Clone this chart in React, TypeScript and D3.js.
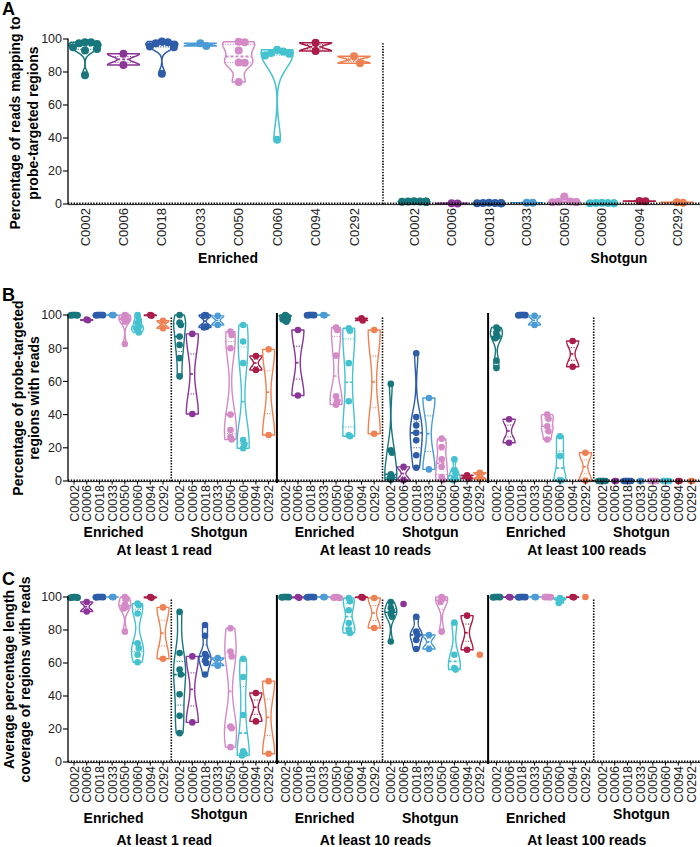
import React from "react";
import * as d3 from "d3";

const categories = ["C0002", "C0006", "C0018", "C0033", "C0050", "C0060", "C0094", "C0292"];
const colors = ["#17777d", "#8a3597", "#2d5ca8", "#4b9cd6", "#d48ac6", "#45c2cf", "#ab1d48", "#ef8052"];
const yTicks = [0, 20, 40, 60, 80, 100];
const groupNames = ["Enriched", "Shotgun"];
const thresholdLabels = ["At least 1 read", "At least 10 reads", "At least 100 reads"];

// Panel A: percentage of reads mapping to probe-targeted regions
const aEnriched: number[][] = [
  [98, 98, 97.5, 97, 95, 94, 93, 78],
  [91, 84.2],
  [98.5, 98, 97.5, 96.5, 95.5, 95, 79],
  [97.5, 95.8],
  [98, 98.4, 93, 85.8, 85.6, 74],
  [93.5, 92.5, 91.5, 91, 90, 39],
  [97.8, 92.7],
  [89.5, 85.3],
];
const aShotgun: number[][] = [
  [1.5, 1.4, 1.6, 1.3, 1.5, 1.2, 1.4, 1.5],
  [0.3, 0.4],
  [0.6, 0.5, 0.7, 0.4, 0.6, 0.5, 0.5],
  [0.8, 0.7],
  [4.5, 1.5, 1.2, 1.0, 1.3, 1.1],
  [0.6, 0.5, 0.7, 0.6, 0.5, 0.4],
  [1.8, 1.6],
  [1.0, 0.8],
];

// Panel B: percentage of probe-targeted regions with reads
const b1Enriched: number[][] = [
  [100, 100, 99.8, 99.9, 100, 99.7, 99.9],
  [97.2, 96.8],
  [100, 99.9, 100, 99.8, 100, 99.9, 100],
  [100, 99.9],
  [100, 99.5, 98, 97, 96, 82.5],
  [100, 97, 95, 93, 92, 91, 89.5],
  [100, 99.6],
  [96.5, 92],
];
const b1Shotgun: number[][] = [
  [100, 95.5, 94, 87, 82, 74, 63],
  [88.6, 40.4],
  [100, 99.8, 99.5, 93, 92.8, 92.5],
  [99.5, 94],
  [90, 88, 80, 40, 30.7, 26.5, 25],
  [94, 84, 71, 24.7, 22, 19.7],
  [75.3, 66.9],
  [79.3, 27.7],
];
const b10Enriched: number[][] = [
  [100, 99.5, 99, 98, 97.5, 96.5, 96],
  [91, 51.5],
  [100, 100, 99.9, 100, 99.8, 100, 99.9],
  [100, 99.8],
  [92.5, 91, 75.5, 51, 48, 46],
  [92, 90.5, 71, 48, 27.5, 27],
  [98, 96.7],
  [91, 28.5],
];
const b10Shotgun: number[][] = [
  [58.5, 18.5, 17, 4, 2.5, 1.5, 0.8],
  [8.5, 0.5],
  [77, 38.5, 33.5, 29, 24.5, 15.5, 8],
  [50, 7],
  [25.5, 20.5, 13, 8.5, 2.4, 0.5],
  [13, 6.5, 4.5, 2, 1, 0.5],
  [3.5, 1.5],
  [5, 1.2],
];
const b100Enriched: number[][] = [
  [92.5, 91.5, 89, 87, 86, 72.5, 68],
  [37.2, 23],
  [100, 99.9, 100, 100, 99.8, 100, 99.9],
  [99.5, 94],
  [40, 37.5, 33, 30, 25],
  [27, 15, 0.5, 0.3],
  [84.3, 68.8],
  [17, 0.2],
];
const b100Shotgun: number[][] = [
  [0, 0, 0, 0, 0, 0, 0],
  [0, 0],
  [0, 0, 0, 0, 0, 0, 0],
  [0, 0],
  [0, 0, 0, 0, 0, 0],
  [0, 0, 0, 0, 0, 0],
  [0, 0],
  [0, 0],
];

// Panel C: average percentage length coverage of regions with reads
const c1Enriched: number[][] = [
  [100, 99.8, 99.6, 99.9, 99.7, 99.5, 99.8],
  [97, 91.2],
  [100, 99.9, 100, 99.8, 100, 99.9, 100],
  [100, 99.9],
  [100, 98.5, 95.5, 94, 93, 79],
  [96, 95, 90, 72, 69, 65, 60.5],
  [100, 99.5],
  [93.7, 62.6],
];
const c1Shotgun: number[][] = [
  [91, 66, 56, 53, 41, 28, 17.5],
  [64, 24],
  [83, 76.5, 65.5, 64, 61.5, 60, 53],
  [63, 58.4],
  [81, 67, 64, 21.5, 20.5, 9],
  [62.5, 51.5, 28.5, 6.5, 5, 4],
  [41.8, 24.6],
  [49, 5],
];
const c10Enriched: number[][] = [
  [100, 99.9, 100, 99.8, 100, 99.9, 100],
  [100, 99.5],
  [100, 99.9, 100, 99.8, 100, 99.9, 100],
  [100, 99.9],
  [100, 99.6, 99.8, 99.4, 100, 99.7],
  [99.4, 97.4, 92, 84.2, 80.2, 78.2],
  [100, 99.6],
  [99.4, 81.2],
];
const c10Shotgun: number[][] = [
  [97, 93.5, 91.5, 90, 88, 73],
  [95.8],
  [88, 79, 77, 74, 68.5],
  [77, 68.5],
  [100, 99, 97, 79],
  [84.5, 65, 57, 56],
  [88.7, 68],
  [65],
];
const c100Enriched: number[][] = [
  [100, 99.9, 100, 99.8, 100, 99.9, 100],
  [100, 99.8],
  [100, 99.9, 100, 99.8, 100, 99.9, 100],
  [100, 99.9],
  [100, 99.8, 99.9, 100, 99.9, 100],
  [99.4, 98.5, 96.4],
  [100, 99.8],
  [100],
];
const c100Shotgun: number[][] = [[], [], [], [], [], [], [], []];

const FONT = "'Liberation Sans', Arial, Helvetica, sans-serif";

type Scale = d3.ScaleLinear<number, number>;

function swarm(values: number[], y: Scale, step: number, cd: number, maxOff: number): number[] {
  const order = values.map((_, i) => i).sort((a, b) => values[b] - values[a]);
  const placed: { dx: number; y: number }[] = [];
  const off = new Array(values.length).fill(0);
  for (const i of order) {
    const yi = y(values[i]);
    let chosen = 0;
    for (let k = 0; k < 60; k++) {
      const slot = k === 0 ? 0 : k % 2 === 1 ? (k + 1) / 2 : -k / 2;
      const dx = slot * step;
      if (Math.abs(dx) > maxOff) {
        chosen = Math.max(-maxOff, Math.min(maxOff, dx));
        break;
      }
      if (!placed.some((p) => Math.abs(p.dx - dx) < step * 0.5 && Math.abs(p.y - yi) < cd)) {
        chosen = dx;
        break;
      }
    }
    placed.push({ dx: chosen, y: yi });
    off[i] = chosen;
  }
  return off;
}

function Violin(props: {
  values: number[];
  cx: number;
  y: Scale;
  halfW: number;
  color: string;
  r: number;
  step: number;
  cd: number;
  maxOff: number;
  sw: number;
}) {
  const { values, cx, y, halfW, color, r, step, cd, maxOff, sw } = props;
  if (!values.length) return null;
  const sorted = values.slice().sort(d3.ascending);
  const lo = sorted[0];
  const hi = sorted[sorted.length - 1];
  let violin: React.ReactNode = null;
  if (sorted.length >= 2 && hi - lo > 1e-6) {
    const sd = d3.deviation(sorted) || 0;
    const factor = sorted.length > 2 ? 0.6 : 0.45;
    const h = Math.max(factor * sd * Math.pow(sorted.length, -0.2), (hi - lo) * 0.04);
    const f = (t: number) => d3.sum(sorted, (v) => Math.exp(-0.5 * ((t - v) / h) ** 2));
    const ts = d3.range(81).map((i) => lo + ((hi - lo) * i) / 80);
    const dens = ts.map(f);
    const mx = d3.max(dens) || 1;
    const wAt = (t: number) => (halfW * f(t)) / mx;
    const pts = ts.map((t, i) => ({ t, w: (halfW * dens[i]) / mx }));
    const area = d3
      .area<{ t: number; w: number }>()
      .x0((d) => cx - d.w)
      .x1((d) => cx + d.w)
      .y((d) => y(d.t));
    const med = d3.quantile(sorted, 0.5) as number;
    const q1 = d3.quantile(sorted, 0.25) as number;
    const q3 = d3.quantile(sorted, 0.75) as number;
    violin = (
      <g>
        <path d={area(pts) || ""} fill="#fff" stroke={color} strokeWidth={sw} strokeLinejoin="round" />
        {[q1, q3].map((q, i) => (
          <line key={i} x1={cx - wAt(q)} x2={cx + wAt(q)} y1={y(q)} y2={y(q)} stroke={color} strokeWidth={sw * 0.8} strokeDasharray="1,1.5" />
        ))}
        <line x1={cx - wAt(med)} x2={cx + wAt(med)} y1={y(med)} y2={y(med)} stroke={color} strokeWidth={sw * 1.2} strokeDasharray="3,2" />
      </g>
    );
  }
  const offs = swarm(values, y, step, cd, maxOff);
  return (
    <g>
      {violin}
      {values.map((v, i) => (
        <circle key={i} cx={cx + offs[i]} cy={y(v)} r={r} fill={color} />
      ))}
    </g>
  );
}

function YAxis({ y, x0, fontSize }: { y: Scale; x0: number; fontSize: number }) {
  return (
    <g>
      <line x1={x0} x2={x0} y1={y(100) - 0.5} y2={y(0)} stroke="#000" strokeWidth={1.3} />
      {yTicks.map((t) => (
        <g key={t}>
          <line x1={x0 - 5} x2={x0} y1={y(t)} y2={y(t)} stroke="#000" strokeWidth={1.1} />
          <text x={x0 - 6} y={y(t)} dy="0.35em" textAnchor="end" fontSize={fontSize} fontFamily={FONT} fill="#222">
            {t}
          </text>
        </g>
      ))}
    </g>
  );
}

function XAxisLine({ x0, x1, y0 }: { x0: number; x1: number; y0: number }) {
  return (
    <g>
      <line x1={x0} x2={x1} y1={y0 + 0.6} y2={y0 + 0.6} stroke="#000" strokeWidth={0.9} />
      <line x1={x0} x2={x1} y1={y0 - 0.8} y2={y0 - 0.8} stroke="#000" strokeWidth={1.6} strokeDasharray="1.4,1.4" />
    </g>
  );
}

function CatLabels({ x, y0, fontSize, ticks }: { x: d3.ScalePoint<string>; y0: number; fontSize: number; ticks: boolean }) {
  return (
    <g>
      {categories.map((c) => {
        const cx = x(c) as number;
        return (
          <g key={c}>
            {ticks && <line x1={cx} x2={cx} y1={y0} y2={y0 + 3.5} stroke="#000" strokeWidth={1} />}
            <text
              transform={`translate(${cx + 4.5},${y0 + 4}) rotate(-90)`}
              textAnchor="end"
              fontSize={fontSize}
              fontFamily={FONT}
              fill="#222"
            >
              {c}
            </text>
          </g>
        );
      })}
    </g>
  );
}

function YTitle({ lines, xs, yc }: { lines: string[]; xs: number[]; yc: number }) {
  return (
    <g>
      {lines.map((l, i) => (
        <text
          key={i}
          transform={`translate(${xs[i]},${yc}) rotate(-90)`}
          textAnchor="middle"
          fontSize={14}
          fontWeight="bold"
          fontFamily={FONT}
          fill="#000"
        >
          {l}
        </text>
      ))}
    </g>
  );
}

// ------- Panel A -------
function PanelA() {
  const y = d3.scaleLinear().domain([0, 100]).range([204, 39]);
  const xE = d3.scalePoint<string>().domain(categories).range([85, 354]);
  const xS = d3.scalePoint<string>().domain(categories).range([414, 677]);
  const groups = [
    { data: aEnriched, x: xE },
    { data: aShotgun, x: xS },
  ];
  const labelX = [228, 619];
  return (
    <g>
      <text x={2} y={15} fontSize={18} fontWeight="bold" fontFamily={FONT}>A</text>
      <YTitle lines={["Percentage of reads mapping to", "probe-targeted regions"]} xs={[20, 38]} yc={123} />
      <line x1={383} x2={383} y1={y(97.5)} y2={y(0)} stroke="#000" strokeWidth={1.6} strokeDasharray="1.4,1.4" />
      {groups.map((g, gi) => (
        <g key={gi}>
          {g.data.map((vals, ci) => (
            <Violin
              key={ci}
              values={vals}
              cx={g.x(categories[ci]) as number}
              y={y}
              halfW={16}
              color={colors[ci]}
              r={4}
              step={6}
              cd={7}
              maxOff={12}
              sw={1.5}
            />
          ))}
          <CatLabels x={g.x} y0={204} fontSize={13} ticks={false} />
          <text x={labelX[gi]} y={263} textAnchor="middle" fontSize={14} fontWeight="bold" fontFamily={FONT}>
            {groupNames[gi]}
          </text>
        </g>
      ))}
      <XAxisLine x0={68} x1={700} y0={204} />
      <YAxis y={y} x0={68} fontSize={12.5} />
    </g>
  );
}

// ------- Panels B and C -------
const GROUP_START = 74;
const GROUP_PITCH = 105.6;
const GROUP_SPAN = 89;

function MultiPanel({
  letter,
  letterY,
  y100,
  y0,
  data,
  titleLines,
  titleXs,
  groupLabelY,
  thresholdY,
}: {
  letter: string;
  letterY: number;
  y100: number;
  y0: number;
  data: number[][][];
  titleLines: string[];
  titleXs: number[];
  groupLabelY: number[];
  thresholdY: number;
}) {
  const y = d3.scaleLinear().domain([0, 100]).range([y0, y100]);
  const xs = data.map((_, g) =>
    d3
      .scalePoint<string>()
      .domain(categories)
      .range([GROUP_START + g * GROUP_PITCH, GROUP_START + g * GROUP_PITCH + GROUP_SPAN])
  );
  const seps = d3.range(5).map((g) => ({
    x: GROUP_START + g * GROUP_PITCH + GROUP_SPAN + (GROUP_PITCH - GROUP_SPAN) / 2,
    solid: g % 2 === 1,
  }));
  return (
    <g>
      <text x={2} y={letterY} fontSize={18} fontWeight="bold" fontFamily={FONT}>{letter}</text>
      <YTitle lines={titleLines} xs={titleXs} yc={(y0 + y100) / 2} />
      {seps.map((s, i) =>
        s.solid ? (
          <line key={i} x1={s.x} x2={s.x} y1={y(100) - 2} y2={y0 + 2} stroke="#000" strokeWidth={2} />
        ) : (
          <line key={i} x1={s.x} x2={s.x} y1={y(98.5)} y2={y0} stroke="#000" strokeWidth={1.6} strokeDasharray="1.4,1.4" />
        )
      )}
      {data.map((group, gi) => (
        <g key={gi}>
          {group.map((vals, ci) => (
            <Violin
              key={ci}
              values={vals}
              cx={xs[gi](categories[ci]) as number}
              y={y}
              halfW={6}
              color={colors[ci]}
              r={3.3}
              step={1.2}
              cd={5}
              maxOff={4}
              sw={1.4}
            />
          ))}
          <CatLabels x={xs[gi]} y0={y0} fontSize={12.5} ticks={true} />
          <text
            x={GROUP_START + gi * GROUP_PITCH + GROUP_SPAN / 2 - 5}
            y={groupLabelY[gi]}
            textAnchor="middle"
            fontSize={14}
            fontWeight="bold"
            fontFamily={FONT}
          >
            {groupNames[gi % 2]}
          </text>
        </g>
      ))}
      {thresholdLabels.map((t, i) => (
        <text
          key={t}
          x={GROUP_START + (2 * i) * GROUP_PITCH + (GROUP_PITCH + GROUP_SPAN) / 2 - 7}
          y={thresholdY}
          textAnchor="middle"
          fontSize={14}
          fontWeight="bold"
          fontFamily={FONT}
        >
          {t}
        </text>
      ))}
      <XAxisLine x0={68} x1={700} y0={y0} />
      <YAxis y={y} x0={68} fontSize={12.5} />
    </g>
  );
}

export default function App() {
  return (
    <svg
      width={700}
      height={847}
      viewBox="0 0 700 847"
      style={{ position: "absolute", left: 0, top: 0, background: "#fff" }}
    >
      <rect width={700} height={847} fill="#fff" />
      <PanelA />
      <MultiPanel
        letter="B"
        letterY={301}
        y100={315}
        y0={481}
        data={[b1Enriched, b1Shotgun, b10Enriched, b10Shotgun, b100Enriched, b100Shotgun]}
        titleLines={["Percentage of probe-targeted", "regions with reads"]}
        titleXs={[23, 39]}
        groupLabelY={[537, 537, 537, 537, 537, 537]}
        thresholdY={555}
      />
      <MultiPanel
        letter="C"
        letterY={585}
        y100={597}
        y0={762}
        data={[c1Enriched, c1Shotgun, c10Enriched, c10Shotgun, c100Enriched, c100Shotgun]}
        titleLines={["Average percentage length", "coverage of regions with reads"]}
        titleXs={[14, 30]}
        groupLabelY={[823, 819, 823, 823, 823, 819]}
        thresholdY={845}
      />
    </svg>
  );
}
